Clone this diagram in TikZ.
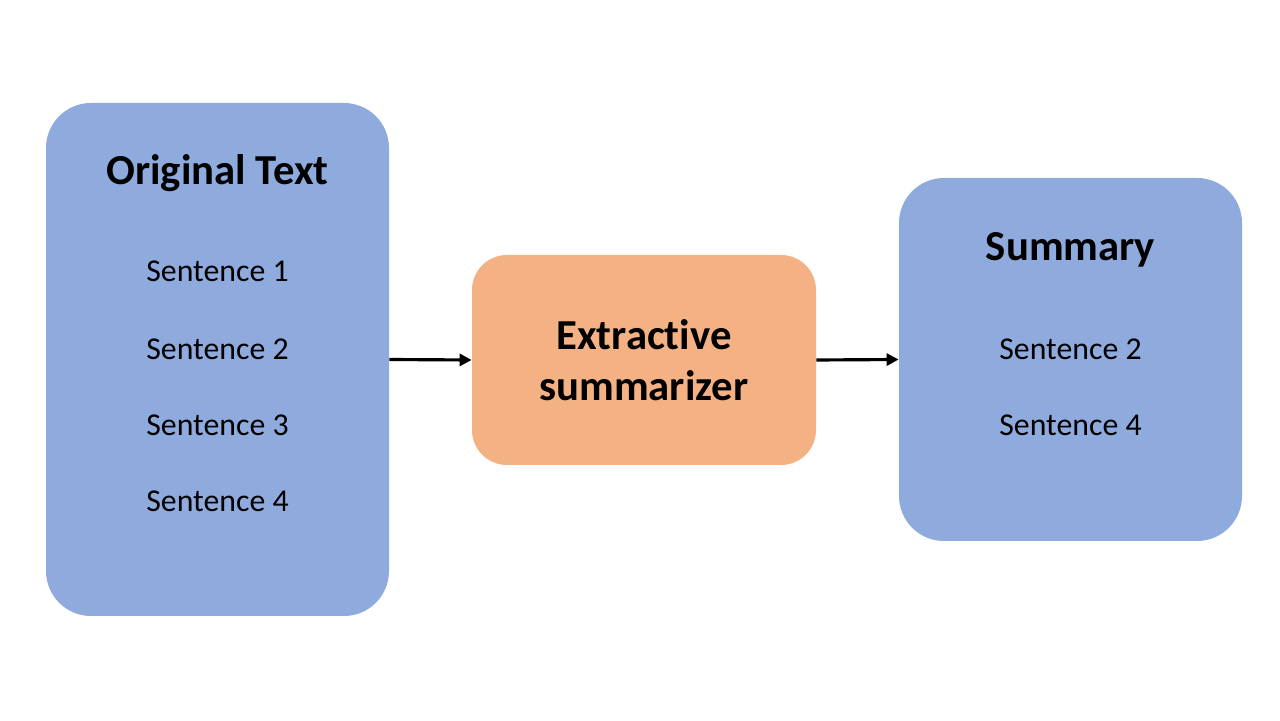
\documentclass[tikz,border=0pt]{standalone}
\usepackage{fontspec}
\setmainfont{Carlito}[Ligatures=NoCommon]
\usetikzlibrary{positioning,arrows.meta}
\definecolor{boxblue}{HTML}{8FAADC}
\definecolor{boxorange}{HTML}{F4B183}
\tikzset{
  bigbox/.style={fill=boxblue,rounded corners=0.9cm,minimum width=6.86cm},
  title/.style={font=\fontsize{24.3}{29}\selectfont\bfseries},
  sent/.style={font=\fontsize{18.1}{22}\selectfont},
  flow/.style={-{Triangle[length=0.24cm,width=0.24cm]},line width=1.8pt}
}
\begin{document}
\begin{tikzpicture}
\useasboundingbox (0,0) rectangle (25.6,14.4);
\node[bigbox,minimum height=10.26cm] (orig) at (4.35,7.21) {};
\node[fill=boxorange,rounded corners=0.7cm,minimum width=6.88cm,minimum height=4.2cm] (summ) at (12.88,7.2) {};
\node[bigbox,minimum height=7.26cm] (res) at (21.41,7.21) {};
\node[title] (origt) at (4.35,10.94) {Original Text};
\foreach \i/\y in {1/8.97,2/7.41,3/5.89,4/4.37}
  \node[sent] (s\i) at (4.35,\y) {Sentence \i};
\node[title,align=center] (summt) at (summ) {Extractive\\summarizer};
\node[title] (rest) at (21.41,9.40) {Summary};
\node[sent] (r2) at (21.41,7.41) {Sentence 2};
\node[sent] (r4) at (21.41,5.89) {Sentence 4};
\draw[flow] (orig.east) -- (summ.west);
\draw[flow] (summ.east) -- (res.west);
\end{tikzpicture}
\end{document}
